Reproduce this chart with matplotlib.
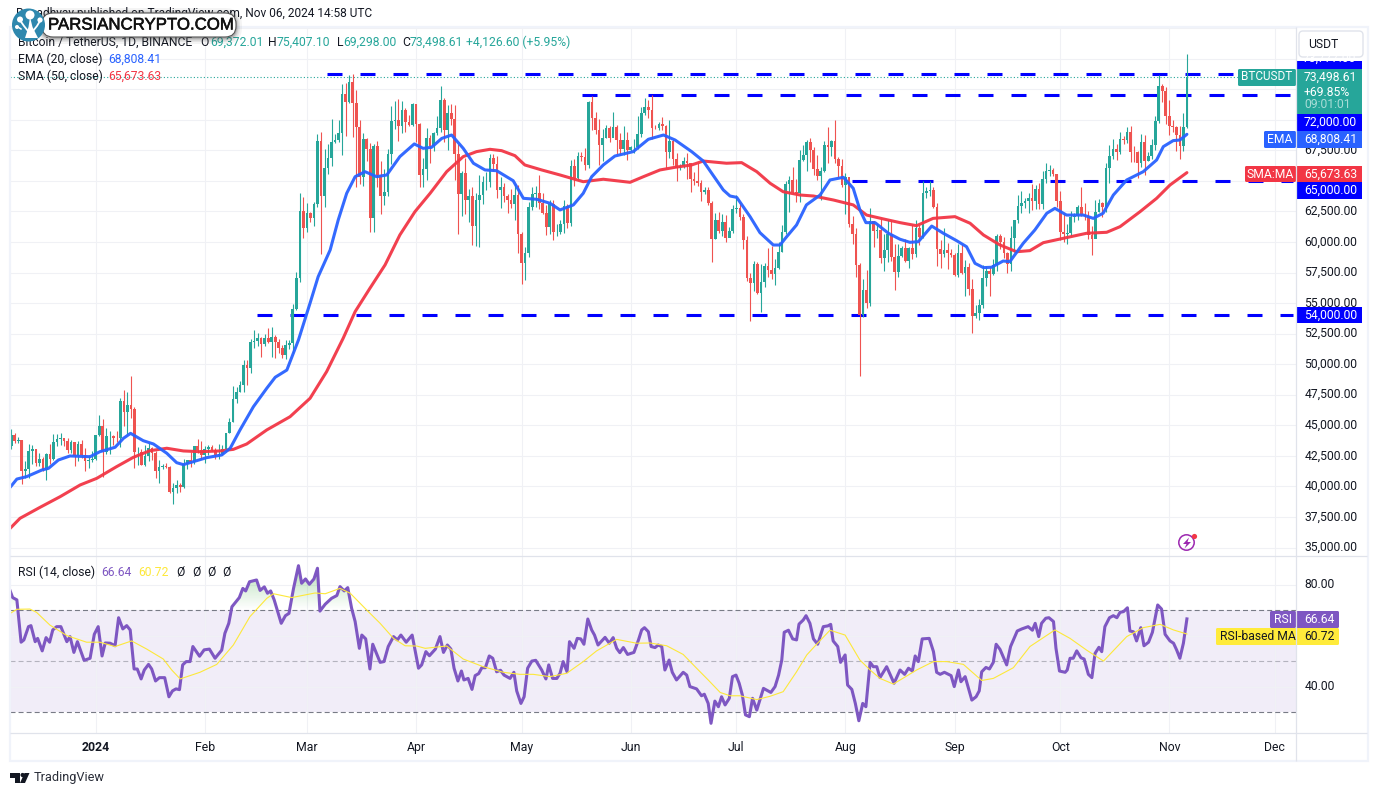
import numpy as np
import matplotlib
matplotlib.use('Agg')
import matplotlib.pyplot as plt
import matplotlib.patheffects as pe
from matplotlib.patches import Rectangle, FancyBboxPatch, Circle, Polygon
from matplotlib.path import Path

plt.rcParams['font.family'] = ['Roboto', 'DejaVu Sans']
plt.rcParams['lines.scale_dashes'] = False

# daily candles in thousands of USDT, 8 Dec 2023 .. 6 Nov 2024
first_open = 43.29
closes = [
    44.18, 43.72, 43.79, 41.24, 41.45, 42.89, 43.02, 41.94, 42.26, 41.37, 42.66, 42.27, 43.65, 43.86, 43.99, 43.74,
    43.01, 43.60, 42.52, 43.44, 42.58, 42.07, 42.14, 42.28,
    44.18, 44.95, 42.85, 44.15, 44.16, 43.97, 43.93, 46.95, 46.11, 46.63, 46.34, 42.78, 42.84, 41.73, 42.51, 43.14,
    42.74, 41.26, 41.62, 41.66, 41.58, 39.53, 39.89, 40.08, 39.93, 41.81, 42.12, 42.03, 43.30, 42.94, 42.58,
    43.08, 43.19, 42.99, 42.58, 42.66, 43.09, 44.34, 45.29, 47.13, 47.75, 48.29, 49.96, 49.70, 51.79, 51.92, 52.12,
    51.64, 52.12, 51.78, 52.26, 51.85, 51.30, 50.73, 51.57, 51.73, 54.48, 57.04, 62.50, 61.13,
    62.39, 61.99, 63.13, 68.25, 63.80, 66.07, 66.88, 68.15, 68.36, 68.95, 72.12, 71.48, 73.07, 71.39, 69.40, 65.30,
    68.39, 67.61, 61.93, 67.84, 65.50, 63.80, 64.09, 67.21, 69.88, 69.99, 69.45, 70.78, 69.85, 69.58, 71.28,
    69.65, 65.46, 65.96, 68.49, 67.83, 68.90, 69.36, 71.62, 69.13, 70.58, 70.06, 67.19, 63.92, 65.66, 63.42, 63.79,
    61.28, 63.47, 63.82, 64.94, 64.94, 66.84, 66.41, 64.28, 64.48, 63.76, 63.42, 63.11, 63.84, 60.64,
    58.25, 59.12, 62.89, 63.89, 64.03, 63.16, 62.33, 61.19, 63.07, 60.79, 60.82, 61.48, 62.94, 61.58, 66.22, 65.23,
    67.05, 66.94, 66.27, 71.45, 70.14, 69.12, 67.93, 68.53, 69.29, 68.51, 69.44, 68.37, 67.63, 68.36, 67.53,
    67.76, 67.77, 68.80, 70.57, 71.08, 70.76, 69.34, 69.31, 69.65, 69.51, 67.32, 68.24, 66.75, 66.01, 66.19, 66.64,
    66.49, 65.15, 64.96, 64.83, 64.10, 64.25, 63.18, 60.28, 61.80, 60.86, 61.67, 60.32, 60.92, 62.68,
    62.75, 62.02, 60.20, 57.06, 56.64, 58.23, 55.85, 56.71, 58.05, 57.72, 57.34, 57.89, 59.20, 60.80, 64.72, 65.04,
    64.09, 63.97, 66.70, 67.15, 68.16, 67.53, 65.93, 65.37, 65.77, 67.90, 67.80, 68.25, 66.78, 66.19, 64.62,
    65.35, 61.50, 60.68, 58.11, 53.99, 56.04, 55.03, 61.70, 60.88, 60.94, 58.71, 59.35, 60.61, 58.73, 57.56, 58.87,
    59.48, 58.44, 59.49, 59.01, 61.16, 60.38, 64.04, 64.16, 64.22, 62.83, 59.42, 59.03, 59.37, 59.12, 58.97,
    57.30, 59.13, 57.48, 57.97, 56.16, 53.95, 54.16, 54.88, 57.04, 57.65, 57.34, 58.13, 60.50, 60.00, 59.13, 58.21,
    60.31, 61.76, 62.95, 63.20, 63.35, 63.58, 63.33, 64.30, 63.14, 65.18, 65.77, 65.89, 65.60, 63.33,
    60.80, 60.65, 60.75, 62.08, 62.09, 62.82, 62.22, 62.13, 60.58, 60.27, 62.45, 63.19, 62.85, 66.05, 67.04, 67.61,
    67.40, 68.42, 68.36, 69.00, 67.37, 67.36, 66.43, 68.16, 66.64, 67.01, 67.93, 69.91, 72.72, 72.34, 70.29,
    69.50, 69.37, 68.78, 67.81, 69.37, 73.50,
]
highs = [
    44.70, 44.37, 44.03, 43.80, 42.10, 43.43, 43.42, 43.09, 42.70, 42.43, 42.76, 43.50, 44.28, 44.25, 44.37, 43.80,
    44.00, 43.80, 43.60, 43.68, 43.80, 43.12, 42.60, 42.90,
    44.18, 45.88, 45.50, 44.79, 44.50, 44.23, 44.50, 47.25, 47.90, 47.70, 49.00, 46.50, 43.25, 43.10, 43.40, 43.58,
    43.20, 42.93, 42.20, 41.87, 41.88, 41.70, 40.28, 40.55, 40.30, 42.23, 42.20, 42.85, 43.32, 43.88, 43.75,
    43.30, 43.42, 43.38, 43.12, 43.50, 43.40, 44.38, 45.60, 48.20, 48.17, 48.60, 50.33, 50.37, 52.05, 52.82, 52.57,
    52.25, 52.48, 52.98, 53.02, 52.38, 52.05, 51.55, 51.95, 51.95, 54.94, 57.58, 64.00, 63.68,
    63.18, 62.48, 63.23, 68.80, 69.00, 67.63, 67.98, 70.08, 68.87, 70.00, 72.90, 73.00, 73.65, 73.78, 72.40, 70.00,
    68.90, 68.50, 68.12, 68.03, 68.24, 66.65, 65.97, 67.62, 71.15, 71.56, 71.73, 71.55, 70.92, 70.35, 71.37,
    71.30, 69.75, 66.90, 69.29, 68.72, 69.00, 70.30, 72.80, 71.75, 71.17, 71.25, 71.23, 68.00, 65.83, 66.87, 64.36,
    64.50, 64.00, 65.45, 65.39, 65.70, 67.20, 67.20, 67.07, 65.30, 64.79, 63.90, 64.37, 64.73, 64.70,
    60.78, 59.60, 63.30, 64.49, 64.60, 65.45, 64.00, 62.99, 63.45, 63.45, 61.45, 61.82, 63.45, 63.10, 66.67, 66.80,
    67.40, 67.40, 67.70, 71.52, 71.98, 70.62, 70.10, 69.22, 69.56, 69.50, 70.65, 69.58, 68.90, 69.50, 69.00,
    67.86, 68.45, 70.27, 71.06, 71.76, 71.63, 71.99, 69.56, 69.85, 70.20, 69.59, 70.00, 68.45, 67.30, 66.40, 66.99,
    67.30, 66.48, 65.73, 66.48, 65.07, 64.52, 64.50, 63.37, 62.37, 62.48, 62.29, 62.20, 61.22, 63.02,
    63.86, 63.29, 62.30, 60.50, 57.50, 58.47, 58.40, 58.23, 58.30, 59.47, 59.65, 58.60, 60.00, 61.42, 65.00, 65.39,
    66.13, 65.12, 67.50, 67.90, 68.37, 68.48, 67.80, 67.10, 66.11, 68.27, 69.40, 68.32, 70.00, 66.98, 66.80,
    65.66, 65.00, 62.15, 61.12, 58.30, 57.00, 57.72, 62.75, 61.74, 61.46, 61.85, 60.65, 61.80, 61.80, 59.85, 59.80,
    59.70, 60.26, 59.61, 61.40, 61.80, 61.40, 64.96, 64.50, 65.00, 64.48, 63.21, 60.20, 61.17, 59.90, 59.45,
    59.06, 59.82, 59.80, 58.52, 58.30, 57.00, 54.85, 55.30, 58.10, 58.04, 58.00, 58.60, 60.67, 60.65, 60.40, 59.21,
    61.30, 61.79, 63.85, 64.13, 63.56, 64.00, 64.75, 64.69, 64.82, 65.84, 66.50, 66.26, 66.08, 65.55,
    64.13, 62.39, 61.47, 62.50, 62.37, 63.00, 64.48, 63.17, 62.52, 61.32, 63.42, 63.48, 63.25, 66.50, 67.95, 68.42,
    68.00, 68.97, 68.67, 69.40, 69.50, 67.84, 67.47, 68.80, 68.73, 67.40, 68.40, 70.27, 73.62, 72.96, 72.70,
    71.63, 70.00, 69.50, 69.48, 70.58, 75.41,
]
lows = [
    43.08, 43.58, 43.56, 40.22, 40.68, 40.65, 41.82, 41.67, 41.70, 41.25, 40.50, 41.80, 42.17, 43.30, 43.40, 43.30,
    42.75, 42.72, 41.63, 42.10, 42.30, 41.30, 41.52, 41.96,
    42.18, 44.15, 40.75, 42.63, 42.62, 43.40, 43.60, 43.20, 44.95, 44.30, 45.60, 41.50, 41.72, 41.72, 41.70, 42.05,
    42.20, 40.68, 40.28, 41.45, 41.50, 39.43, 38.55, 39.48, 39.55, 39.83, 41.40, 41.60, 41.80, 42.70, 42.28,
    41.88, 42.56, 42.88, 42.26, 42.26, 42.55, 42.79, 44.33, 45.24, 46.80, 47.70, 47.70, 48.30, 49.25, 51.32, 51.50,
    50.62, 51.45, 51.70, 50.60, 50.50, 50.90, 50.50, 50.40, 51.28, 50.90, 54.45, 56.70, 60.36,
    60.78, 61.62, 61.30, 62.82, 59.00, 62.85, 65.56, 66.20, 68.10, 68.20, 67.15, 68.63, 71.33, 68.55, 64.53, 64.78,
    64.55, 66.60, 60.78, 60.80, 64.53, 62.25, 63.00, 63.78, 66.38, 69.25, 68.23, 68.90, 69.00, 69.50, 69.52,
    68.15, 64.50, 64.49, 65.06, 66.50, 67.45, 68.76, 69.03, 68.20, 67.52, 69.57, 65.10, 60.66, 62.13, 62.30, 61.60,
    59.77, 59.68, 59.60, 63.10, 64.24, 64.50, 65.80, 63.60, 62.79, 63.30, 62.40, 62.80, 61.79, 59.10,
    56.55, 56.90, 58.80, 62.60, 62.88, 62.70, 62.25, 60.60, 60.63, 60.20, 60.49, 60.63, 60.75, 61.15, 61.32, 64.60,
    65.10, 66.60, 65.85, 66.07, 69.16, 68.86, 66.30, 66.61, 68.49, 68.20, 68.83, 67.23, 67.10, 67.13, 66.67,
    67.45, 67.26, 67.61, 68.56, 70.38, 70.12, 68.42, 69.21, 69.13, 69.20, 66.05, 66.90, 66.30, 64.97, 65.89, 66.03,
    65.13, 64.10, 64.69, 64.55, 63.38, 63.94, 63.00, 58.40, 60.25, 60.70, 60.50, 60.00, 60.40, 60.70,
    62.40, 61.80, 59.42, 56.77, 53.50, 56.00, 55.72, 54.26, 56.28, 57.16, 56.93, 56.50, 57.77, 59.20, 60.63, 62.43,
    63.90, 63.24, 63.30, 66.60, 65.78, 66.57, 65.44, 65.10, 63.45, 65.70, 66.50, 67.07, 66.50, 65.30, 64.50,
    62.30, 61.20, 59.85, 57.12, 49.00, 53.90, 54.56, 54.73, 59.60, 60.30, 58.29, 57.64, 58.40, 58.43, 56.08, 57.10,
    58.80, 58.40, 57.85, 58.60, 58.78, 59.75, 60.35, 63.60, 63.80, 62.80, 58.03, 57.85, 58.75, 57.76, 58.75,
    57.20, 57.12, 57.40, 55.60, 55.62, 52.55, 53.74, 53.65, 54.60, 56.38, 55.54, 57.32, 57.63, 59.45, 58.70, 57.50,
    57.60, 59.17, 61.56, 62.35, 62.76, 62.38, 62.60, 62.72, 62.70, 62.70, 64.80, 65.42, 65.42, 62.85,
    60.16, 60.00, 59.83, 60.46, 61.67, 61.83, 62.13, 61.82, 60.26, 58.95, 60.42, 62.47, 62.05, 62.44, 64.80, 66.75,
    66.70, 67.20, 68.00, 68.10, 66.58, 66.57, 65.26, 66.10, 65.50, 66.60, 66.80, 67.50, 69.73, 71.43, 69.68,
    68.78, 69.00, 67.46, 66.80, 67.45, 69.30,
]

# moving averages, read at turning points (day 0 = 1 Jan 2024)
ema_days = [-24.3, -22.4, -19.6, -15.3, -13.4, -10.6, -7.3, -1.6, 1.2, 5.5, 7.9, 9.9, 13.5, 16.4, 20.2, 23, 24.9, 27.7,
            31.5, 35.8, 38.2, 41, 44.8, 48.6, 51, 54.3, 57.6, 60.9, 63.2, 66.6, 68.9, 71.3, 73.7, 76.5, 79.8, 82.7,
            86.4, 90.5, 93, 95.4, 98.3, 101.1, 104.4, 107.3, 110.6, 113.9, 118.6, 121.5, 125.3, 129.1, 131.9, 135.7,
            138.5, 140.9, 144.2, 147.5, 152.7, 157, 161.3, 164.6, 169.3, 172.6, 175, 178.3, 180.2, 182.1, 185.9,
            188.7, 192.5, 194.4, 196.3, 199.1, 201.9, 205.8, 208.6, 212.4, 215.2, 217.1, 218.8, 221.4, 225.2, 228.5,
            231.3, 233.7, 237.5, 240.8, 244.6, 247.4, 249.8, 252.2, 254.5, 257.8, 259.7, 263.5, 266.8, 270.2, 272.5,
            275.8, 280.6, 283.4, 286.2, 289.1, 292.9, 297.6, 301.4, 303.3, 306.1, 308, 310]
ema_vals = [39927, 40600, 40800, 41340, 41480, 42160, 42490, 42430, 42840, 43200, 43940, 44340, 43740, 43470, 42710,
            41940, 41780, 42020, 42350, 42570, 43120, 44620, 46520, 48030, 48930, 49520, 51980, 55000, 57160, 59340,
            61800, 63980, 65340, 65750, 65340, 65480, 66980, 68020, 67660, 67740, 68470, 68750, 67660, 66440, 65890,
            65830, 65010, 63570, 63490, 63160, 62620, 63030, 63980, 65340, 66300, 67030, 67390, 68400, 68750, 68340,
            67390, 66620, 65620, 64250, 63760, 63650, 62070, 60760, 59750, 59750, 60430, 61390, 63030, 63840, 65070,
            65290, 64390, 62620, 61580, 61580, 60710, 60220, 59970, 60020, 61300, 60710, 60100, 59610, 58250, 57900,
            57930, 58440, 58390, 59890, 60980, 62350, 62750, 62200, 62200, 61930, 62350, 63840, 65070, 65750, 66710,
            67800, 68290, 68340, 68808]
sma_days = [-24.3, -21.5, -15.8, -10.1, -4.4, 0.3, 5.9, 10.7, 15.4, 20.2, 24.9, 29.6, 35.3, 39.1, 42.9, 48.6, 55.2, 60.9,
            65.6, 70.3, 73.7, 77.9, 82.2, 86.4, 90.7, 95, 99.7, 104.4, 108.2, 112, 115.3, 119.1, 121.9, 126.7, 131.9,
            138.5, 144.2, 151.8, 155.6, 160.3, 164.6, 169.3, 172.6, 179.2, 183.5, 187.8, 191.6, 195.3, 200.1, 203.9,
            209.6, 215.2, 219, 223.8, 228.5, 233.2, 237.9, 244.1, 248.4, 252.2, 256.9, 261.6, 265.4, 269.2, 274.9,
            281.5, 287.2, 291, 296.7, 301.4, 305.2, 310]
sma_vals = [36570, 37390, 38290, 39160, 40120, 40660, 41610, 42380, 42920, 43120, 42900, 42840, 42900, 43030, 43470,
            44620, 45700, 47210, 49390, 52120, 54300, 56210, 58120, 60570, 62480, 63980, 65750, 66980, 67390, 67580,
            67470, 67060, 66300, 65890, 65480, 64930, 65130, 64880, 65340, 65890, 66110, 66300, 66620, 66440, 66490,
            65750, 64800, 64110, 63840, 63760, 63430, 63030, 62200, 61880, 61580, 61330, 61930, 62070, 61530, 60570,
            59750, 59200, 59290, 59940, 60300, 60710, 60790, 61250, 62480, 63570, 64660, 65673]

rsi_days = [-24.3, -23.6, -22.4, -21.2, -20.4, -19.1, -18.4, -17.2, -16.5, -15.2, -14.1, -13.1, -12.2, -11.1, -9.9, -8.2,
            -7.3, -6.2, -5.2, -3.3, -1.6, -0.4, 0.7, 1.8, 2.7, 4.1, 5.5, 6.5, 7.7, 8.8, 9.8, 10.9, 11.8, 12.9, 13.8, 15,
            15.9, 17, 18.1, 19.6, 20.8, 21.8, 22.8, 23.8, 24.7, 25.7, 26.8, 27.6, 29.5, 30.8, 32.3, 33.9, 35.8, 36.7,
            37.8, 38.7, 40.8, 41.8, 42.6, 43.7, 45.7, 46.7, 47.9, 48.8, 49.7, 50.7, 51.7, 52.7, 53.9, 54.9, 56.2, 57.6,
            58.5, 59.6, 60.7, 62, 63, 63.7, 65.2, 67, 68.5, 69.4, 70.6, 71.6, 72.7, 73.7, 74.9, 75.6, 76.7, 77.9, 78.7,
            80.8, 81.9, 83.1, 84.6, 85.7, 86.7, 88.2, 89.9, 91.7, 92.6, 93.8, 94.8, 96.5, 97.8, 98.8, 99.9, 100.9, 101.8,
            102.9, 103.9, 104.6, 105.8, 106.9, 107.8, 108.8, 109.7, 110.7, 111.8, 112.8, 113.9, 115, 116, 117.7, 118.8,
            119.6, 120.8, 121.7, 122.7, 123.9, 125, 126.7, 127.9, 128.7, 129.8, 131, 131.9, 132.8, 133.9, 134.6, 135.9,
            136.8, 137.8, 138.7, 139.8, 140.9, 141.7, 142.7, 144.7, 145.9, 147, 148, 148.9, 149.9, 151.1, 152.9, 154.2,
            155.1, 155.9, 157, 157.8, 158.9, 159.8, 160.8, 161.7, 162.9, 163.8, 165, 166.9, 167.9, 168.8, 170.7, 172.1,
            172.9, 174, 174.8, 175.9, 176.9, 177.8, 178.8, 180, 180.9, 181.9, 182.8, 183.7, 184.6, 185.7, 186.6, 187.8,
            189.7, 191.8, 193, 194, 194.9, 195.6, 196.8, 198, 199.1, 199.8, 201, 201.8, 202.9, 203.9, 205.1, 206.7, 208,
            208.8, 209.5, 210.8, 211.6, 212.9, 213.6, 214.8, 215.8, 216.8, 217.9, 218.8, 220, 220.9, 221.9, 222.8, 224.7,
            226.8, 228.5, 229.8, 230.9, 232, 232.8, 233.7, 234.8, 236.8, 238, 238.9, 239.9, 241.1, 243, 243.9, 245.1,
            245.8, 247, 248.9, 250.1, 251, 251.7, 252.9, 253.9, 255, 255.8, 256.9, 258.8, 259.9, 261.8, 263.1, 264.9,
            266.1, 266.9, 267.9, 268.7, 269.9, 270.8, 272.1, 272.8, 273.8, 275.4, 276, 276.8, 277.7, 278.7, 279.9, 280.8,
            282, 283, 283.9, 285, 285.8, 286.7, 288, 289.1, 290.1, 291, 292, 293.1, 293.8, 294.8, 295.7, 296.9, 297.8,
            299.1, 300.2, 301.7, 302.8, 303.8, 305.2, 306.2, 307.1, 308, 309, 310]
rsi_vals = [77.6, 75.0, 74.1, 57.5, 58.4, 63.6, 64.0, 57.7, 59.0, 54.1, 59.3, 57.5, 62.3, 63.6, 63.6, 57.7,
            59.7, 53.5, 57.7, 50.4, 51.2, 60.6, 63.6, 52.1, 57.2, 57.1, 56.1, 67.1, 62.7, 64.0, 62.3, 47.0, 47.0, 43.1, 46.6, 48.8,
            47.0, 42.3, 43.6, 43.6, 36.1, 38.4, 39.2, 38.9, 48.6, 49.9, 49.9, 55.8, 52.0, 54.5, 54.8, 51.2, 54.4, 61.0,
            64.9, 71.4, 75.0, 78.6, 77.6, 81.2, 81.9, 77.8, 79.2, 76.7, 77.6, 74.1, 69.5, 64.9, 67.9, 68.8, 78.6, 87.5,
            80.6, 82.3, 80.2, 82.3, 86.5, 69.7, 72.4, 74.7, 75.8, 79.3, 77.6, 78.9, 70.8, 65.6, 55.1, 60.3, 58.8, 47.0, 56.7,
            49.6, 49.9, 55.8, 59.7, 58.4, 60.3, 57.5, 60.3, 47.3, 48.6, 53.8, 52.2, 54.8, 59.7, 53.5, 56.4, 54.8, 47.3,
            42.3, 46.2, 42.7, 43.3, 39.0, 44.4, 45.2, 47.5, 47.5, 52.1, 51.2, 45.9, 46.5, 44.6, 43.3, 45.7,
            38.4, 33.5, 36.1, 47.3, 50.1, 50.4, 46.6, 43.1, 48.6, 43.3, 43.3, 45.3, 49.9, 45.9, 57.7, 55.1,
            59.0, 58.8, 56.7, 66.6, 62.3, 60.3, 56.4, 59.4, 57.1, 59.3, 55.1, 53.4, 55.4, 52.7, 53.5, 58.4,
            62.3, 63.2, 61.6, 55.8, 55.4, 56.4, 55.8, 46.6, 50.5, 45.7, 42.7, 45.7, 44.6, 40.1, 39.2, 36.5,
            37.1, 33.5, 25.7, 34.4, 32.2, 36.1, 32.9, 35.5, 44.0, 44.6, 41.4, 36.8, 29.0, 28.3, 35.5, 30.9,
            39.4, 37.8, 40.1, 44.6, 50.5, 61.4, 62.2, 58.8, 58.4, 64.6, 66.2, 67.9, 64.9, 58.8, 56.7, 63.6, 63.9,
            64.5, 58.0, 55.8, 49.6, 52.5, 40.7, 39.0, 33.5, 26.7, 33.5, 32.2, 49.6, 47.9, 47.9, 43.6, 47.9,
            41.4, 46.6, 44.9, 47.3, 46.2, 52.1, 49.9, 58.8, 59.0, 53.8, 45.7, 44.9, 45.7, 44.4, 40.1, 46.6,
            42.0, 44.0, 34.8, 36.1, 38.4, 45.9, 47.6, 47.0, 49.6, 56.7, 54.7, 48.6, 55.8, 61.9, 62.7, 63.6,
            62.2, 64.9, 59.7, 64.9, 66.9, 67.1, 65.6, 55.1, 46.2, 45.7, 46.6, 51.2, 51.2, 54.1, 51.4, 50.9,
            44.9, 43.6, 53.1, 55.5, 53.8, 63.6, 67.1, 67.9, 67.1, 69.2, 69.5, 71.0, 61.9, 61.6, 58.0, 63.2, 56.1,
            57.5, 61.4, 72.1, 70.5, 60.6, 58.0, 57.1, 54.4, 51.2, 57.1, 66.64]
rsi_ma_days = [-24.3, -22.4, -18.7, -16.8, -13, -8.2, -2.6, 1.2, 5.5, 10.2, 14.5, 19.2, 21.6, 24, 29.6, 34.4, 39.1, 43.8,
               48.6, 50.5, 55.7, 62.3, 65.2, 69.4, 72.3, 77, 80.8, 84.6, 87.9, 91.2, 93.6, 99.7, 104.4, 110.1, 115.8,
               120.5, 124.3, 129, 133.8, 138.5, 142.3, 148, 153.7, 157.5, 162.2, 166.9, 170.7, 174, 177.4, 180.2, 183,
               187.8, 191.6, 195.3, 199.1, 202, 204.8, 208.6, 212.9, 217.1, 220, 222.8, 226.6, 229.5, 233.2, 238, 241.8,
               246.5, 251.7, 255, 260.7, 265.4, 272.5, 276.8, 281.5, 286.3, 292.9, 297.6, 302.4, 306.2, 310]
rsi_ma_vals = [68.8, 70.4, 70.5, 69.2, 64.2, 60.1, 57.5, 57.5, 55.8, 58.0, 54.8, 50.9, 46.6, 43.1, 45.7, 48.8, 56.4, 67.5,
               74.7, 76.5, 75, 76.8, 76.5, 78.6, 76.7, 70.1, 64.9, 59, 56.1, 56, 55.1, 56, 50.9, 47.9, 45.7,
               44.9, 44.9, 44, 45.3, 49.9, 54.1, 58.6, 57.1, 57.2, 56.1, 52.7, 47.3, 42.7, 37.8, 36.5, 36.5,
               35, 36.3, 38.1, 45.9, 52.5, 56.7, 62.2, 60.3, 50.5, 46.6, 43.3, 41.1, 43.5, 46.6, 49.9, 49.9,
               48.8, 42.5, 43.3, 47.5, 55.8, 62.3, 59, 54.4, 50.1, 59.7, 63.2, 64.5, 62.3, 60.72]

levels = [73777, 72000, 65000, 54000]
level_starts = [65.7, 138.2, 214.9, 45.8]
month_days = [0, 31, 60, 91, 121, 152, 182, 213, 244, 274, 305, 335]
month_names = ['2024', 'Feb', 'Mar', 'Apr', 'May', 'Jun', 'Jul', 'Aug', 'Sep', 'Oct', 'Nov', 'Dec']
price_ticks = [35000 + 2500 * i for i in range(18)]
hidden_ticks = [65000, 70000, 72500, 75000, 77500]
rsi_ticks = [80, 60, 40]

UP, DOWN = '#26a69a', '#ef5350'
BLUE, RED, PURPLE, YEL = '#2962ff', '#f23645', '#7e57c2', '#ffeb3b'
INK, GRID, EDGE = '#131722', '#f0f1f5', '#e0e3eb'
W, H = 1377, 796

fig = plt.figure(figsize=(W / 100, H / 100), dpi=100, facecolor='white')


def pane(x0, y0, x1, y1):
    return fig.add_axes([x0 / W, 1 - y1 / H, (x1 - x0) / W, (y1 - y0) / H])


XLIM = (-24.35, 340.99)
ax = pane(10, 28, 1296, 556)
rs = pane(10, 556, 1296, 733)
for a in (ax, rs):
    a.set_xlim(XLIM)
    a.set_xticks(month_days)
    a.set_axisbelow(True)
    a.grid(True, color=GRID, lw=0.8)
    a.yaxis.tick_right()
    a.tick_params(length=0, labelsize=8.7, labelcolor=INK, pad=6)
    for s in a.spines.values():
        s.set_visible(False)

# price pane
ax.set_ylim(34305, 77505)
ax.set_yticks(price_ticks)
ax.set_yticklabels(['' if t in hidden_ticks else f'{t:,.2f}' for t in price_ticks], va='center')
ax.set_xticklabels([])

c = np.array(closes) * 1000
hi = np.array(highs) * 1000
lo = np.array(lows) * 1000
o = np.r_[first_open * 1000, c[:-1]]
days = np.arange(-24, -24 + len(c))
col = np.where(c >= o, UP, DOWN)
ax.hlines(levels, level_starts, 340, colors='#0000ff', lw=2.2, linestyles=[(0, (10.8, 12.96))], zorder=1.5)
ax.axhline(closes[-1] * 1000 - 1.4, color=UP, lw=0.8, ls=(0, (0.8, 1.6)), zorder=1.6)
ax.vlines(days, lo, hi, colors=col, lw=0.8, zorder=2)
ax.bar(days, np.abs(c - o), bottom=np.minimum(c, o), width=0.76, color=col, zorder=2.1)
ax.plot(sma_days, sma_vals, color=RED, lw=2.2, alpha=0.95, zorder=3, solid_capstyle='round')
ax.plot(ema_days, ema_vals, color=BLUE, lw=2.2, alpha=0.95, zorder=3.1, solid_capstyle='round')

# rsi pane
rs.set_ylim(21.9, 91.3)
rs.set_yticks(rsi_ticks)
rs.set_yticklabels(['80.00', '60.00', '40.00'], va='center')
rs.set_xticklabels(month_names, fontsize=8.8)
rs.get_xticklabels()[0].set_fontweight('bold')
rs.tick_params(axis='x', pad=6)
rs.axhspan(30, 70, color=PURPLE, alpha=0.1, lw=0, zorder=0.5)
rs.axhline(70, color='#787b86', lw=0.8, ls=(0, (3.6, 2.2)), zorder=1)
rs.axhline(50, color='#787b86', alpha=0.5, lw=0.8, ls=(0, (3.6, 2.2)), zorder=1)
rs.axhline(30, color='#787b86', lw=0.8, ls=(0, (3.6, 2.2)), zorder=1)

# green fade between the rsi line and the 70 level
rv = np.array(rsi_vals)
poly = rs.fill_between(rsi_days, 70, rv, where=rv > 70, interpolate=True, color='none')
fade = np.zeros((64, 1, 4))
fade[..., 0], fade[..., 1], fade[..., 2] = 0.30, 0.69, 0.31
fade[:, 0, 3] = np.linspace(0, 0.38, 64)
im = rs.imshow(fade, origin='lower', aspect='auto', extent=[XLIM[0], XLIM[1], 70, 86], zorder=1.2)
im.set_clip_path(Path.make_compound_path(*poly.get_paths()), rs.transData)
rs.set_xlim(XLIM)
rs.set_ylim(21.9, 91.3)
rs.plot(rsi_days, rsi_vals, color=PURPLE, lw=2.2, zorder=3, solid_joinstyle='round')
rs.plot(rsi_ma_days, rsi_ma_vals, color='#fde83a', lw=0.8, zorder=3.1)

# screen furniture on top, in pixels
ov = fig.add_axes([0, 0, 1, 1], zorder=10)
ov.set_xlim(0, W)
ov.set_ylim(H, 0)
ov.axis('off')


def label(x, y, s, color=INK, size=8.7, ha='left', **kw):
    return ov.text(x, y, s, color=color, fontsize=size, ha=ha, va='center', **kw)


def box(x0, y0, x1, y1, color, r=1.5, **kw):
    p = FancyBboxPatch((x0, y0), x1 - x0, y1 - y0, boxstyle=f'round,pad=0,rounding_size={r}',
                       fc=color, ec='none', mutation_aspect=1, **kw)
    ov.add_patch(p)
    return p


ov.add_patch(Rectangle((9.5, 27), 1358, 734, fc='none', ec='#f0f3fa', lw=1.6))
ov.hlines([556, 733], 10, 1367, color=EDGE, lw=0.9)
ov.vlines(1296, 27, 761, color=EDGE, lw=0.9)

# top text
label(372, 14, 'Rupadhyay published on TradingView.com, Nov 06, 2024 14:58 UTC', ha='right', size=8.6)
label(18, 42, 'Bitcoin / TetherUS, 1D, BINANCE')
for x, vx, k, v in [(200, 210, 'O', '69,372.01'), (268, 277, 'H', '75,407.10'),
                    (337, 343, 'L', '69,298.00'), (402, 410, 'C', '73,498.61')]:
    label(x, 42, k)
    label(vx, 42, v, color=UP)
label(466, 42, '+4,126.60 (+5.95%)', color=UP)
label(18, 59, 'EMA (20, close)')
label(108, 59, '68,808.41', color=BLUE)
label(18, 76, 'SMA (50, close)')
label(108, 76, '65,673.63', color=RED)
label(18, 572, 'RSI (14, close)')
label(101, 572, '66.64', color=PURPLE)
label(138, 572, '60.72', color='#fde83a')
for x in (176, 192, 207, 222):
    label(x, 572, 'Ø')

# right scale tags
box(1299, 31, 1363, 57, 'white', r=4).set(ec=EDGE, lw=1)
label(1308, 44, 'USDT')
top_clip = Rectangle((1296, 61), 66, 8, fc='#0000ff', ec='none')
ov.add_patch(top_clip)
label(1329, 58.5, '73,777.00', color='white', ha='center').set_clip_path(top_clip)
box(1238, 69, 1296, 86, UP)
label(1267, 77, 'BTCUSDT', color='white', ha='center', size=8.5)
ov.add_patch(Rectangle((1296, 69), 66, 45, fc=UP, ec='none'))
label(1304, 77, '73,498.61', color='white')
label(1304, 92, '+69.85%', color='white')
label(1304, 105, '09:01:01', color='#a8dcd7')
for y0, y1, t in [(114, 131, '72,000.00'), (182, 199, '65,000.00'), (307, 323, '54,000.00')]:
    ov.add_patch(Rectangle((1296, y0), 66, y1 - y0, fc='#0000ff', ec='none'))
    label(1304, (y0 + y1) / 2, t, color='white')
box(1264, 131, 1296, 148, BLUE)
label(1280, 139.5, 'EMA', color='white', ha='center')
ov.add_patch(Rectangle((1296, 131), 66, 17, fc=BLUE, ec='none'))
label(1304, 139.5, '68,808.41', color='white')
box(1245, 166, 1296, 182, RED)
label(1270.5, 174, 'SMA:MA', color='white', ha='center')
ov.add_patch(Rectangle((1296, 166), 66, 16, fc=RED, ec='none'))
label(1304, 174, '65,673.63', color='white')
box(1270, 611, 1296, 628, PURPLE)
label(1283, 619.5, 'RSI', color='white', ha='center')
box(1296, 611, 1339, 628, PURPLE)
label(1304, 619.5, '66.64', color='white')
box(1216, 628, 1339, 645, YEL)
label(1220, 636.5, 'RSI-based MA')
label(1304, 636.5, '60.72')

# bolt badge
ov.add_patch(Circle((1186.5, 542.5), 7.7, fc='none', ec='#9c27b0', lw=1.1))
ov.add_patch(Polygon([(1189, 537.5), (1183, 544), (1186.5, 544), (1184.5, 548.5), (1191, 542), (1187.5, 542)], fc='#9c27b0', ec='none'))
ov.add_patch(Circle((1194.5, 536.5), 2.6, fc='#f23645', ec='none'))

# watermark pill and logo, over the title text
for grow, a in [(6, 0.05), (4, 0.08), (2.5, 0.12), (1.2, 0.2)]:
    box(42 - grow, 13 - grow + 1, 236 + grow, 37 + grow + 1, '#333333', r=11 + grow, alpha=a, zorder=5)
box(42, 13, 236, 37, 'white', r=11, zorder=5.5).set(ec='#555555', lw=0.8)
label(48, 25, 'PARSIANCRYPTO.COM', color='#111111', size=12.1, family=['Liberation Sans'], zorder=6,
      path_effects=[pe.withStroke(linewidth=0.4, foreground='#111111')])
ov.add_patch(Circle((28.5, 25), 16.5, fc='#2e88ae', ec='none', zorder=6))
for x, y, r in [(30, 15, 4.5), (20, 19.5, 3), (40, 20, 2.6), (17, 27, 2.0)]:
    ov.add_patch(Circle((x, y), r, fc='white', ec='none', zorder=6.5))
ov.add_patch(Polygon([(25, 38), (28.5, 27), (30, 17), (32.5, 27), (38, 38)], fc='white', ec='none', zorder=6.5))
ov.plot([28, 24, 20.5], [31, 26, 21], color='white', lw=1.3, zorder=6.5)
ov.plot([21, 18], [29, 27], color='white', lw=1.1, zorder=6.5)
ov.plot([33, 37, 40], [31, 26, 21], color='white', lw=1.3, zorder=6.5)

# tradingview mark
ov.add_patch(Polygon([(10, 773), (20, 773), (20, 783), (15, 783), (15, 777.5), (10, 777.5)], fc=INK, ec='none'))
ov.add_patch(Circle((22.6, 775), 2.1, fc=INK, ec='none'))
ov.add_patch(Polygon([(25, 783), (20, 783), (24.5, 773), (29.5, 773)], fc=INK, ec='none'))
label(34, 778, 'TradingView', size=9.2, color='#2a2e39')

fig.savefig('out.png', dpi=100)
